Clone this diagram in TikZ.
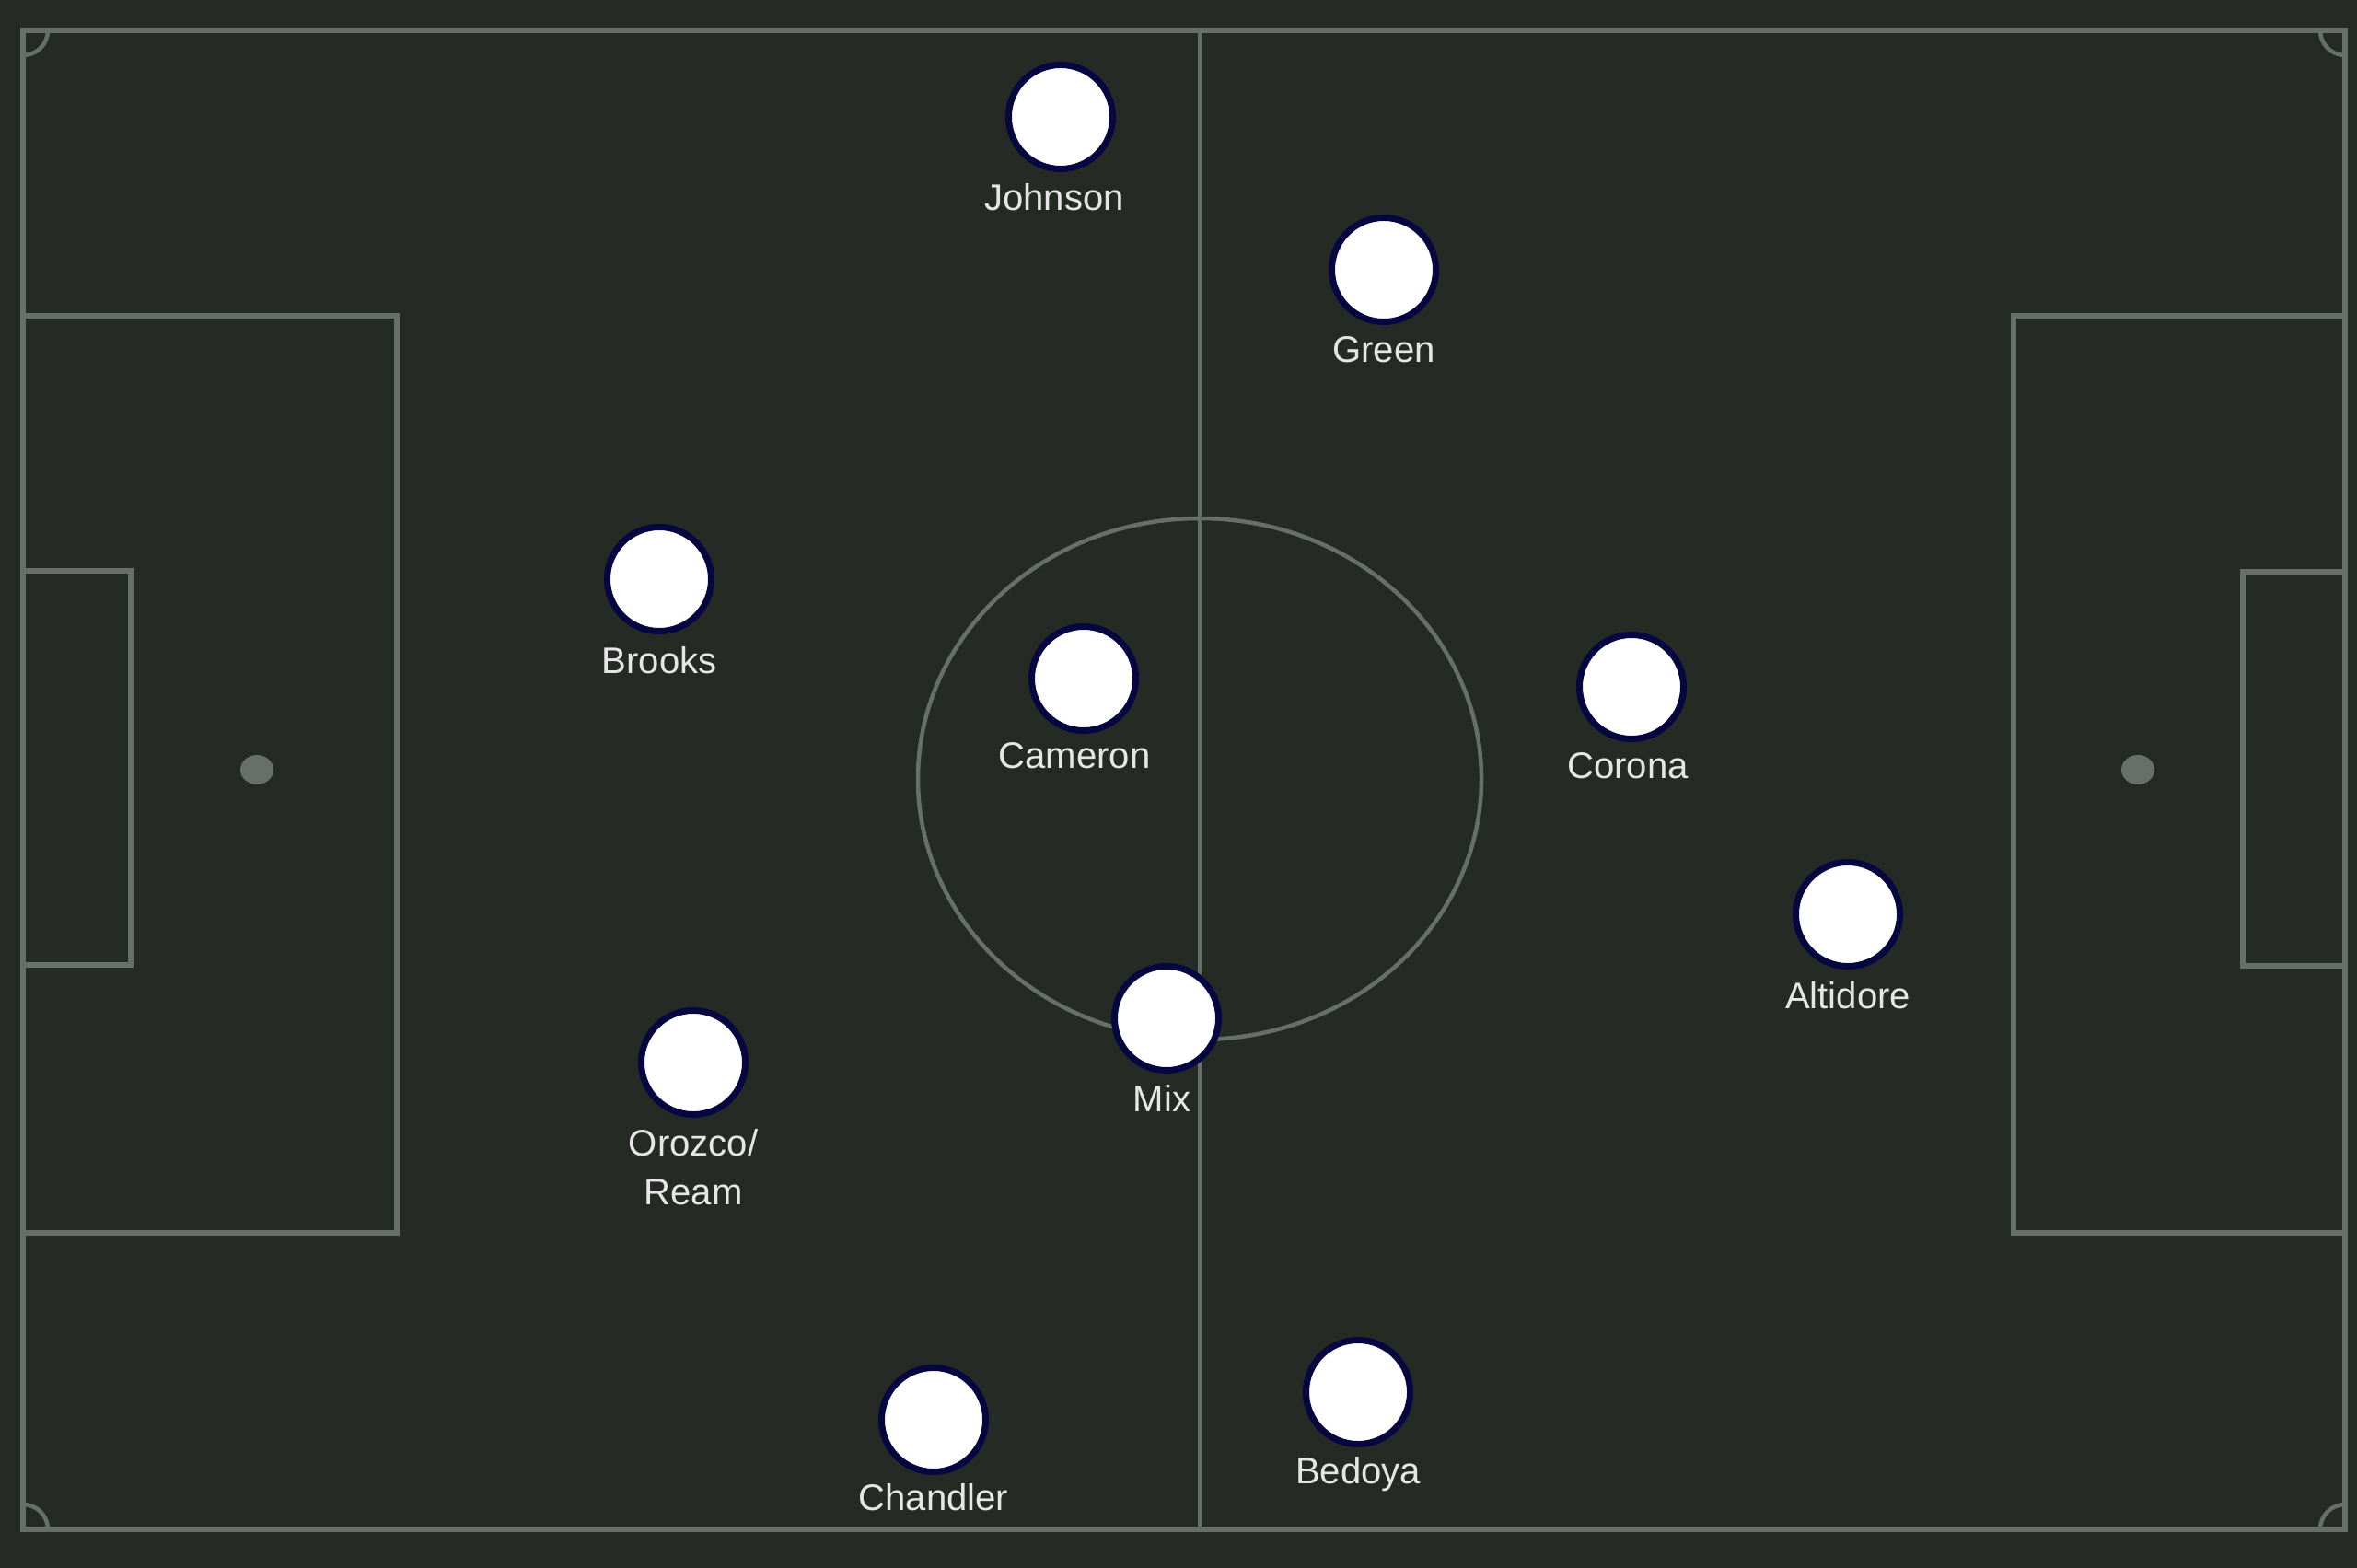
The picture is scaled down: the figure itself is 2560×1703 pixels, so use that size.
\documentclass[tikz,border=0pt]{standalone}
\usepackage{fontspec}
\setmainfont{Liberation Sans}
\usetikzlibrary{positioning}
\definecolor{pitchbg}{RGB}{37,42,36}
\definecolor{pitchline}{RGB}{104,110,104}
\definecolor{shirtrim}{RGB}{6,6,64}
\definecolor{nametext}{RGB}{230,230,230}
\begin{document}
\begin{tikzpicture}[x=0.01cm, y=-0.01cm,
  player/.style={shape=circle, minimum size=1.13cm, inner sep=0pt, fill=white, draw=shirtrim, line width=0.07cm},
  playername/.style={inner sep=0pt, text=nametext, font=\fontsize{11.4}{15.1}\selectfont, align=center},
  boxline/.style={draw=pitchline, line width=0.065cm},
  thinline/.style={draw=pitchline, line width=0.045cm}]

\useasboundingbox (0,0) rectangle (2560,1703);
\fill[pitchbg] (0,0) rectangle (2560,1703);

% pitch
\draw[thinline] (1303,33) -- (1303,1661);
\draw[thinline] (1303,846) circle [x radius=306, y radius=283];
\draw[boxline] (25,343) rectangle (431,1339);
\draw[boxline] (25,620) rectangle (142,1048);
\draw[boxline] (2187,343) rectangle (2547,1339);
\draw[boxline] (2436,621) rectangle (2547,1049);
\fill[pitchline] (279,836) circle [x radius=18, y radius=16];
\fill[pitchline] (2322,836) circle [x radius=18, y radius=16];
\begin{scope}
\clip (25,33) rectangle (2547,1661);
\draw[thinline] (25,33) circle [radius=27];
\draw[thinline] (2547,33) circle [radius=27];
\draw[thinline] (25,1661) circle [radius=27];
\draw[thinline] (2547,1661) circle [radius=27];
\end{scope}
\draw[boxline] (25,33) rectangle (2547,1661);

% players
\node [player] (johnson) at (1152,127) {};
\node [player] (green) at (1503,293) {};
\node [player] (brooks) at (716,629) {};
\node [player] (cameron) at (1177,737) {};
\node [player] (corona) at (1772,746) {};
\node [player] (altidore) at (2007,993) {};
\node [player] (mix) at (1267,1106) {};
\node [player] (orozco) at (753,1154) {};
\node [player] (chandler) at (1014,1542) {};
\node [player] (bedoya) at (1475,1512) {};

\node [playername, below=0.12cm of johnson, xshift=-0.07cm] (johnsonname) {Johnson};
\node [playername, below=0.12cm of green] (greenname) {Green};
\node [playername, below=0.13cm of brooks] (brooksname) {Brooks};
\node [playername, below=0.09cm of cameron, xshift=-0.1cm] (cameronname) {Cameron};
\node [playername, below=0.11cm of corona, xshift=-0.04cm] (coronaname) {Corona};
\node [playername, below=0.13cm of altidore] (altidorename) {Altidore};
\node [playername, below=0.12cm of mix, xshift=-0.05cm] (mixname) {Mix};
\node [playername, below=0.12cm of orozco] (orozconame) {Orozco/\\Ream};
\node [playername, below=0.09cm of chandler] (chandlername) {Chandler};
\node [playername, below=0.10cm of bedoya] (bedoyaname) {Bedoya};
\end{tikzpicture}
\end{document}
